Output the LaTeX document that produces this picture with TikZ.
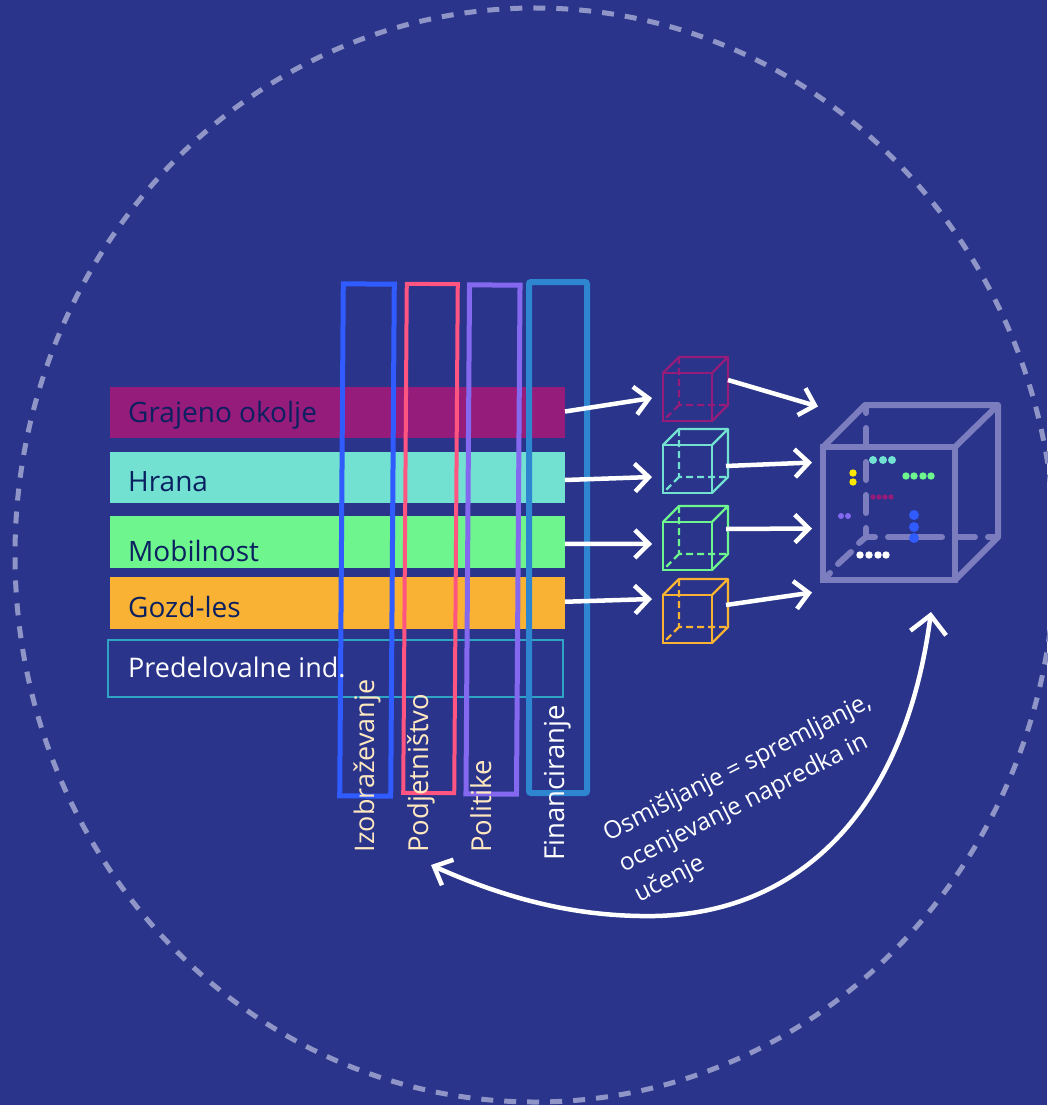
\documentclass[tikz,border=0pt]{standalone}
\usepackage{fontspec}
\setmainfont{Open Sans}
\usetikzlibrary{arrows.meta}
\definecolor{navy}{HTML}{29348A}
\definecolor{ink}{HTML}{0A2060}
\definecolor{ring}{HTML}{8F95C6}
\definecolor{plum}{HTML}{951C7A}
\definecolor{mint}{HTML}{72E1D1}
\definecolor{leaf}{HTML}{6EF58D}
\definecolor{amber}{HTML}{F9B233}
\definecolor{sky}{HTML}{2FA4C4}
\definecolor{cobalt}{HTML}{2F5BFF}
\definecolor{rose}{HTML}{FF5580}
\definecolor{violet}{HTML}{8469F0}
\definecolor{azure}{HTML}{2E86D0}
\definecolor{cream}{HTML}{FFE8C0}
\definecolor{lilac}{HTML}{7B7DBF}
\tikzstyle{sector}=[minimum width=455pt,inner sep=0pt,outer sep=0pt]
\tikzstyle{sectorlabel}=[anchor=base west,inner sep=0pt,text=ink,font=\fontsize{28}{32}\selectfont]
\tikzstyle{lever}=[draw,inner sep=0pt,outer sep=0pt]
\tikzstyle{leverlabel}=[anchor=base west,rotate=90,inner sep=0pt,font=\fontsize{27.5}{32}\selectfont]
\tikzstyle{flow}=[draw=white,line width=4.5pt,-{Straight Barb[length=14pt,width=28pt,line width=4.5pt]}]
\tikzstyle{cubeface}=[draw,inner sep=0pt,outer sep=0pt,line width=2.2pt,minimum width=49pt,minimum height=48pt]
\newcommand{\smallcube}[4]{
  \node (#1) [cubeface,draw=#4] at (#2,#3) {};
  \draw[#4,line width=2.2pt,line join=round] (#1.north west) -- ++(16,-16) -- ++(49,0) -- ++(0,48) -- (#1.south east)
    (#1.north east) -- ++(16,-16);
  \draw[#4,line width=2.2pt,dash pattern=on 7pt off 4pt] ([shift={(16,-16)}]#1.north west) -- ++(0,48) -- ++(49,0)
    ([shift={(16,-16)}]#1.south west) -- (#1.south west);
}
\begin{document}
\begin{tikzpicture}[x=1pt,y=-1pt]
  \path[use as bounding box,fill=navy] (0,0) rectangle (1047,1105);
  \draw[ring,line width=5pt,dash pattern=on 12pt off 11pt] (535,555) ellipse (520pt and 547pt);

  \node (barA) [sector,fill=plum,minimum height=51pt,anchor=north west] at (110,387) {};
  \node (barB) [sector,fill=mint,minimum height=51pt,anchor=north west] at (110,452) {};
  \node (barC) [sector,fill=leaf,minimum height=51.5pt,anchor=north west] at (110,516) {};
  \node (barD) [sector,fill=amber,minimum height=51.5pt,anchor=north west] at (110,577) {};
  \node (barE) [draw=sky,line width=2pt,minimum width=455.5pt,minimum height=57.5pt,inner sep=0pt,outer sep=0pt,anchor=north west] at (107.5,639.5) {};
  \node (labA) [sectorlabel] at (128,422.7) {Grajeno okolje};
  \node (labB) [sectorlabel] at (128,491.7) {Hrana};
  \node (labC) [sectorlabel] at (128,561) {Mobilnost};
  \node (labD) [sectorlabel] at (128,617.7) {Gozd-les};

  \node (leverA) [lever,draw=cobalt,line width=5pt,minimum width=51pt,minimum height=512pt,rotate=-0.4] at (367,540) {};
  \node (leverB) [lever,draw=rose,line width=4pt,minimum width=51pt,minimum height=509pt,rotate=-0.4] at (430.5,538.5) {};
  \node (leverC) [lever,draw=violet,line width=5pt,minimum width=50.5pt,minimum height=509pt,rotate=-0.4] at (493,539.5) {};
  \node (leverD) [lever,draw=azure,line width=6pt,rounded corners=2pt,minimum width=58pt,minimum height=511pt] at (558,537.5) {};
  \node (labE) [sectorlabel,text=white,font=\fontsize{27}{32}\selectfont] at (128,677.7) {Predelovalne ind.};
  \node (nameA) [leverlabel,text=cream,font=\fontsize{27}{32}\selectfont] at (374,852.5) {Izobraževanje};
  \node (nameB) [leverlabel,text=cream] at (428.7,853) {Podjetništvo};
  \node (nameC) [leverlabel,text=cream] at (491.7,853) {Politike};
  \node (nameD) [leverlabel,text=white] at (564,861) {Financiranje};

  \smallcube{cubeA}{687.5}{397}{plum}
  \smallcube{cubeB}{687.5}{469}{mint}
  \smallcube{cubeC}{687.5}{546}{leaf}
  \smallcube{cubeD}{687.5}{619}{amber}

  \node (big) [draw=lilac,line width=6pt,inner sep=0pt,outer sep=0pt,minimum width=132pt,minimum height=133pt,anchor=north west] at (823,447) {};
  \draw[lilac,line width=6pt,line join=round,line cap=round] (big.north west) -- ++(42,-42) -- ++(133,0) -- ++(0,132) -- (big.south east)
    (big.north east) -- ++(43,-42);
  \foreach \xa/\ya/\xb/\yb in {866/408/866/413,866/428/866/445,866/462/866/480,866/495/866/513,866/528/866/537,
      866/537/875/537,888/537/942/537,958/537/975/537,988/537/998/537,
      866/537/859/543,851/552/838/564,830/573/823/580}
    \draw[lilac,line width=6pt,line cap=round] (\xa,\ya) -- (\xb,\yb);
  \foreach \x in {873,883,892} \fill[mint] (\x,460) circle (4pt);
  \foreach \x in {906,914,923,931} \fill[leaf] (\x,476) circle (3.7pt);
  \foreach \y in {473,482} \fill[yellow!90!orange] (853,\y) circle (3.7pt);
  \foreach \x in {873,879,885,891} \fill[plum] (\x,497) circle (2.7pt);
  \foreach \x in {841,848} \fill[violet] (\x,516) circle (3pt);
  \foreach \y in {515,527,538} \fill[cobalt] (914,\y) circle (5pt);
  \foreach \x in {860,869,878,886} \fill[white] (\x,555) circle (3.7pt);

  \draw[flow] ([shift={(0,-1)}]barA.east) -- ([shift={(-11,1)}]cubeA.west);
  \draw[flow] ([shift={(0,2.5)}]barB.east) -- ([shift={(-11,8)}]cubeB.west);
  \draw[flow] ([shift={(0,2)}]barC.east) -- ([shift={(-11,-2)}]cubeC.west);
  \draw[flow] ([shift={(0,-1)}]barD.east) -- ([shift={(-11,-20)}]cubeD.west);
  \draw[flow] ([shift={(16,-17)}]cubeA.east) -- ([shift={(-5,-107)}]big.west);
  \draw[flow] ([shift={(14,-3)}]cubeB.east) -- ([shift={(-11,-51)}]big.west);
  \draw[flow] ([shift={(14,-17)}]cubeC.east) -- ([shift={(-11,15)}]big.west);
  \draw[flow] ([shift={(14,-14)}]cubeD.east) -- ([shift={(-11,79)}]big.west);

  \coordinate (loopA) at (431,865);
  \coordinate (loopB) at (655,916);
  \coordinate (loopC) at (931,612);
  \draw[white,line width=4.5pt,{Straight Barb[length=15pt,width=28pt,line width=4.5pt]}-{Straight Barb[length=18pt,width=36pt,line width=4.5pt]}]
    (loopA) .. controls (520,905) and (590,917) .. (loopB) .. controls (800,913) and (905,810) .. (loopC);
  \node (reflect) [rotate=27,text=white,align=left,inner sep=0pt,font=\fontsize{24.3}{34}\selectfont] at (753,799) {Osmišljanje = spremljanje,\\ocenjevanje napredka in\\učenje};
\end{tikzpicture}
\end{document}
